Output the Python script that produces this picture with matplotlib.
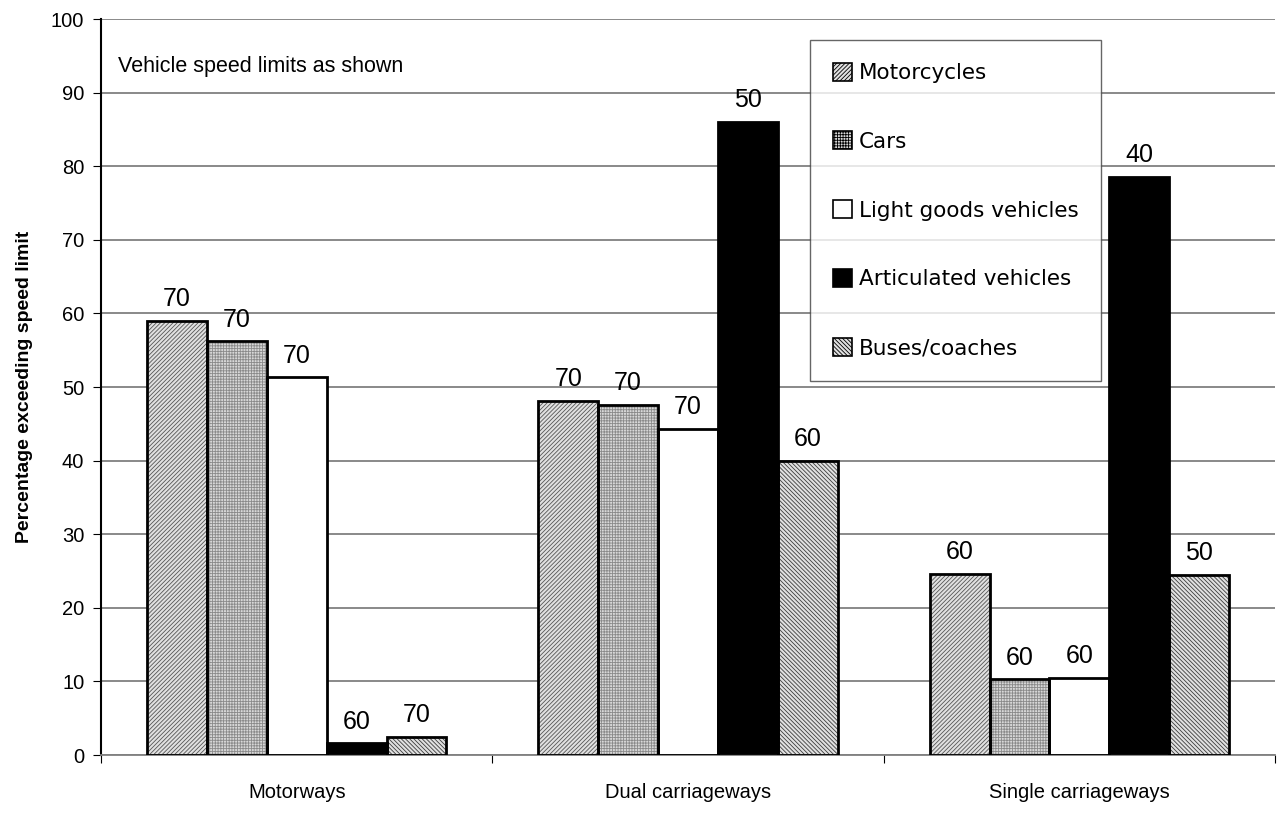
import numpy as np
import matplotlib.pyplot as plt

# data
categories = ["Motorways", "Dual carriageways", "Single carriageways"]
vehicles = ["Motorcycles", "Cars", "Light goods vehicles",
            "Articulated vehicles", "Buses/coaches"]
pct_motorcycles = [59.0, 48.1, 24.6]
pct_cars = [56.2, 47.6, 10.3]
pct_lgv = [51.3, 44.3, 10.5]
pct_artic = [1.6, 86.0, 78.6]
pct_buses = [2.5, 40.0, 24.5]
limits_motorcycles = [70, 70, 60]
limits_cars = [70, 70, 60]
limits_lgv = [70, 70, 60]
limits_artic = [60, 50, 40]
limits_buses = [70, 60, 50]

series = [pct_motorcycles, pct_cars, pct_lgv, pct_artic, pct_buses]
limits = [limits_motorcycles, limits_cars, limits_lgv, limits_artic, limits_buses]

# face, hatch colour, hatch
styles = [
    ("#e0e0e0", "#555555", "////////"),
    ("#d8d8d8", "#8a8a8a", "++++++"),
    ("white", None, None),
    ("black", None, None),
    ("#e0e0e0", "#3c3c3c", "\\\\\\\\\\\\\\\\"),
]

plt.rcParams['font.family'] = ['Liberation Sans', 'DejaVu Sans']
plt.rcParams['hatch.linewidth'] = 0.6

fig = plt.figure(figsize=(12.82, 8.32), dpi=100)
ax = fig.add_axes([0.0788, 0.0925, 0.9158, 0.8846])

x = np.arange(len(categories))
w = 0.153
handles = []
for i, (vals, lims) in enumerate(zip(series, limits)):
    fc, hc, hatch = styles[i]
    pos = x + (i - 2) * w
    if hatch:
        ax.bar(pos, vals, w, color=fc, edgecolor=hc, hatch=hatch,
               linewidth=0, zorder=2)
    else:
        ax.bar(pos, vals, w, color=fc, linewidth=0, zorder=2)
    ax.bar(pos, vals, w, fill=False, edgecolor="black", linewidth=2, zorder=3)
    h = plt.Rectangle((0, 0), 1, 1, facecolor=fc, edgecolor=hc if hc else "black",
                      hatch=hatch, linewidth=0)
    handles.append(h)
    for p, v, l in zip(pos, vals, lims):
        ax.annotate(str(l), (p, v), xytext=(0, 7), textcoords="offset points",
                    ha="center", va="bottom", fontsize=18)

ax.set_xlim(-0.5, 2.5)
ax.set_ylim(0, 100)
ax.set_yticks(np.arange(0, 101, 10))
ax.set_xticks([-0.5, 0.5, 1.5, 2.5])
ax.set_xticklabels([])
ax.set_xticks(x, minor=True)
ax.set_xticklabels(categories, minor=True, fontsize=14.5)
ax.tick_params(axis="x", which="minor", length=0, pad=20)
ax.tick_params(axis="x", which="major", length=6, direction="out")
ax.tick_params(axis="y", length=6, labelsize=14.5, pad=6)
ax.yaxis.grid(True, color="#808080", linewidth=1.3, zorder=0)
ax.set_axisbelow(True)
for s in ["top", "right"]:
    ax.spines[s].set_visible(False)
ax.spines["left"].set_linewidth(1.5)
ax.spines["bottom"].set_color("#808080")
ax.spines["bottom"].set_linewidth(1.3)

ax.set_ylabel("Percentage exceeding speed limit", fontsize=14, fontweight="bold",
              labelpad=13)
ax.text(0.0145, 0.935, "Vehicle speed limits as shown", transform=ax.transAxes,
        fontsize=15.5, va="center")

leg = ax.legend(handles, vehicles, loc="upper left",
                bbox_to_anchor=(0.604, 0.9715), frameon=True,
                prop={"family": "DejaVu Sans", "size": 15.5},
                fancybox=False, labelspacing=2.25, handlelength=0.9,
                handleheight=0.9, handletextpad=0.3, borderpad=1.05,
                borderaxespad=0)
leg.get_frame().set_edgecolor("#404040")
leg.get_frame().set_linewidth(1.0)
for p in leg.get_patches():
    p.set_edgecolor("black")
    p.set_linewidth(1.2)

fig.savefig("out.png", dpi=100)
